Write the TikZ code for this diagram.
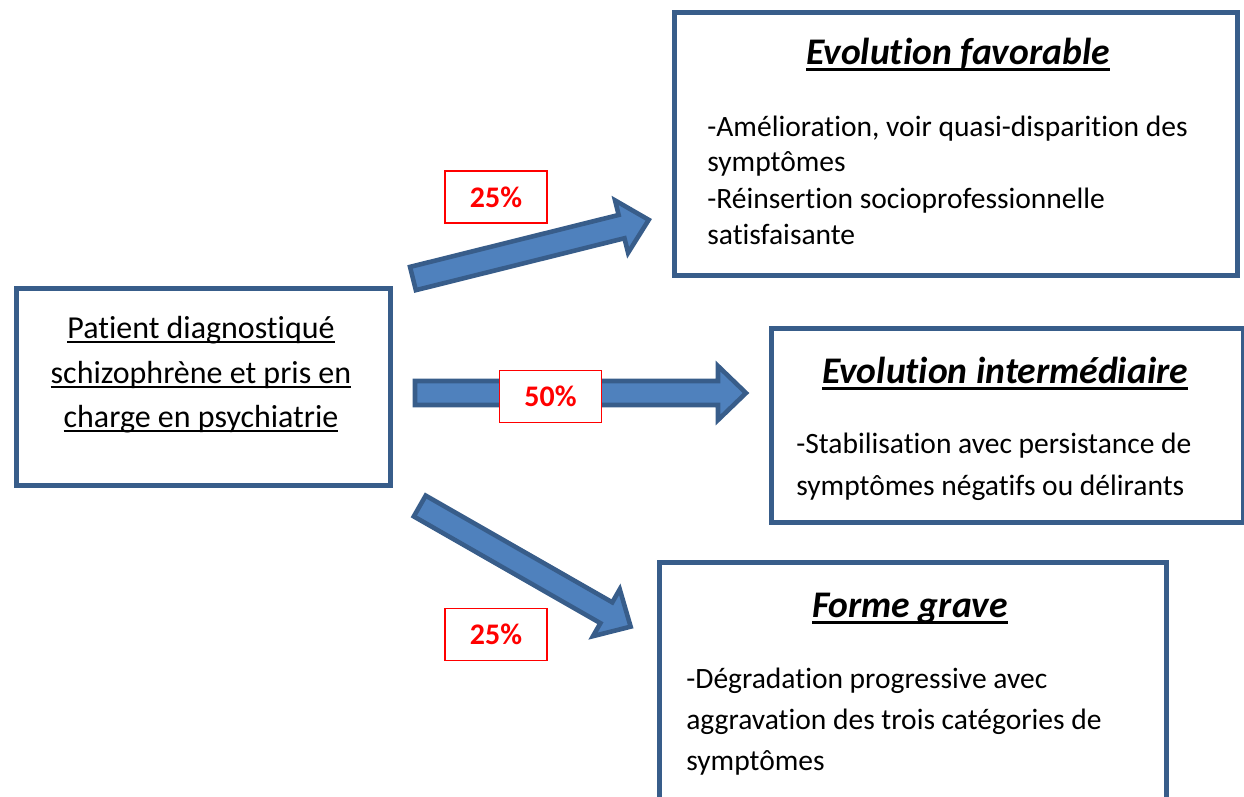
\documentclass[tikz,border=0pt]{standalone}
\usepackage{fontspec}
\setmainfont{Carlito}[Ligatures={NoCommon,NoContextual}]
\definecolor{boxline}{HTML}{385D8A}
\definecolor{arrowfill}{HTML}{4F81BD}
\definecolor{pctred}{HTML}{FF0000}
\newcommand{\blockarrow}[3]{%
  \begin{scope}[shift={(#1)}, rotate=#2]
    \draw[barrow] (2,-12) -- ({#3-31},-12) -- ({#3-31},-27) -- ({#3-3},0) -- ({#3-31},27) -- ({#3-31},12) -- (2,12) -- cycle;
  \end{scope}}
\newcommand{\myul}[3]{{\setbox0\hbox{#3}\dimen0=\wd0 \rlap{\box0}\rule[-#1]{\dimen0}{#2}}}
\newcommand{\ttl}[1]{\myul{3.7pt}{1.6pt}{#1}}
\newcommand{\ulft}[1]{\myul{3.0pt}{1.4pt}{#1}}
\begin{document}
\begin{tikzpicture}[x=0.02cm,y=-0.02cm,
  box/.style={draw=boxline, line width=2.9pt, fill=white, rectangle, inner sep=0, anchor=north west},
  barrow/.style={draw=boxline, fill=arrowfill, line width=2.6pt, line join=miter},
  pct/.style={draw=pctred, line width=0.8pt, fill=white, minimum width=2.04cm, minimum height=1.04cm, inner sep=0,
    text=pctred, font=\fontsize{17pt}{20pt}\selectfont\bfseries},
  body/.style={inner sep=0, anchor=base west, font=\fontsize{16.8pt}{20pt}\selectfont},
  ctr/.style={inner sep=0, anchor=base, font=\fontsize{18.2pt}{22pt}\selectfont},
  title/.style={inner sep=0, anchor=base, font=\fontsize{21.4pt}{25pt}\selectfont\bfseries\itshape}]
\useasboundingbox (0,0) rectangle (1244,796);
\clip (0,0) rectangle (1244,796);

% boxes
\node[box, minimum width=7.48cm, minimum height=3.94cm] (patient) at (14,286) {};
\node[box, minimum width=11.26cm, minimum height=5.26cm] (fav) at (672,10) {};
\node[box, minimum width=9.44cm, minimum height=3.88cm] (inter) at (769,326) {};
\node[box, minimum width=10.14cm, minimum height=5.2cm] (grave) at (657,560) {};

% arrows
\coordinate (t1) at (411,279);
\coordinate (t2) at (413,393);
\coordinate (t3) at (418,505);
\blockarrow{t1}{13.98}{248}
\blockarrow{t2}{0}{336}
\blockarrow{t3}{-29.77}{248}

% percentages
\node[pct] (p1) at (496,197) {25\%};
\node[pct] (p2) at (550.5,396.5) {50\%};
\node[pct] (p3) at (496,634.5) {25\%};

% patient text
\node[ctr] (pa1) at (201,338) {\ulft{Patient diagnostiqué}};
\node[ctr] (pa2) at (201,383) {\ulft{schizophrène et pris en}};
\node[ctr] (pa3) at (201,427) {\ulft{charge en psychiatrie}};

% favourable
\node[title] (favt) at (958,64) {\ttl{Evolution favorable}};
\node[body] (fav1) at (707,136) {-Amélioration, voir quasi-disparition des};
\node[body] (fav2) at (707,171) {symptômes};
\node[body] (fav3) at (707,208) {-Réinsertion socioprofessionnelle};
\node[body] (fav4) at (707,244) {satisfaisante};

% intermediate
\node[title] (intt) at (1005,383) {\ttl{Evolution intermédiaire}};
\node[body] (int1) at (796,453) {-Stabilisation avec persistance de};
\node[body] (int2) at (796,495) {symptômes négatifs ou délirants};

% grave
\node[title] (grat) at (910,617) {\ttl{Forme grave}};
\node[body] (gra1) at (686,688) {-Dégradation progressive avec};
\node[body] (gra2) at (686,729) {aggravation des trois catégories de};
\node[body] (gra3) at (686,770) {symptômes};
\end{tikzpicture}
\end{document}
